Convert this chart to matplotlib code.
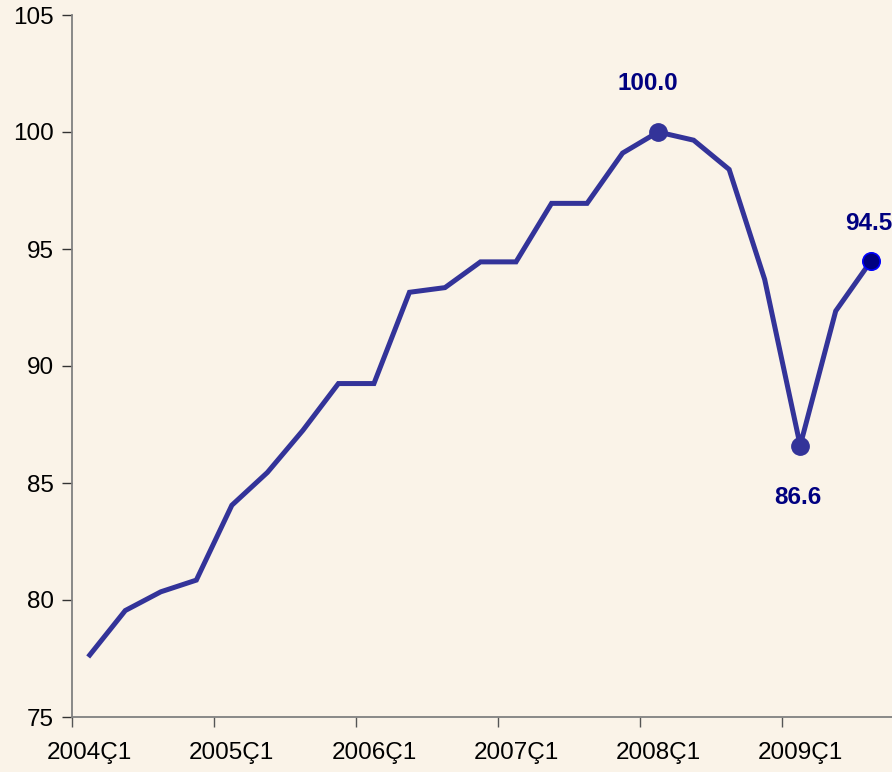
import matplotlib
matplotlib.use('Agg')

import matplotlib.pyplot as plt
import numpy as np

plt.rcParams.update({
    'font.family': ['Liberation Sans', 'DejaVu Sans'],
    'font.size': 17.5,
})

values = [77.65, 79.55, 80.35, 80.85, 84.05, 85.45, 87.25, 89.25, 89.25,
          93.15, 93.35, 94.45, 94.45, 96.95, 96.95, 99.1, 100.0, 99.65,
          98.4, 93.7, 86.6, 92.35, 94.5]
tick_labels = ['2004Ç1', '2005Ç1', '2006Ç1', '2007Ç1', '2008Ç1', '2009Ç1']

bg = '#FAF3E8'
line_color = '#333399'
label_color = '#000080'

fig = plt.figure(figsize=(8.92, 7.72), dpi=100, facecolor=bg)
ax = fig.add_axes([72 / 892, 55 / 772, 817 / 892, 702 / 772])
ax.set_facecolor(bg)

x = np.arange(len(values))
ax.plot(x, values, color=line_color, linewidth=3.6, solid_joinstyle='miter', zorder=2)

# highlighted points
for idx in (16, 20):
    ax.plot(x[idx], values[idx], 'o', color=line_color, markersize=12.5, zorder=3)
ax.plot(x[22], values[22], 'o', markerfacecolor=label_color, markeredgecolor='#0000FF',
        markeredgewidth=1.2, markersize=12.5, zorder=3, clip_on=False)

ax.annotate(f'{values[16]:.1f}', (x[16], values[16]), xytext=(-10, 49),
            textcoords='offset pixels', ha='center', va='center',
            fontweight='bold', color=label_color)
ax.annotate(f'{values[20]:.1f}', (x[20], values[20]), xytext=(-2, -52),
            textcoords='offset pixels', ha='center', va='center',
            fontweight='bold', color=label_color)
ax.annotate(f'{values[22]:.1f}', (x[22], values[22]), xytext=(-2, 37),
            textcoords='offset pixels', ha='center', va='center',
            fontweight='bold', color=label_color, annotation_clip=False)

ax.set_xlim(-0.5, len(values) - 0.5)
ax.set_ylim(75, 105)
ax.set_yticks(np.arange(75, 106, 5))

# tick marks at category boundaries, labels at first quarter of each year
ax.set_xticks(np.arange(0, len(values), 4) - 0.5)
ax.set_xticklabels([])
ax.set_xticks(np.arange(0, len(values), 4), minor=True)
ax.set_xticklabels(tick_labels, minor=True)
ax.tick_params(axis='x', which='minor', length=0, pad=18)
ax.tick_params(axis='x', which='major', length=7, width=1, color='#555555', direction='out')
ax.tick_params(axis='y', length=7, width=1, color='#333333', direction='out', pad=6)

for s in ('top', 'right'):
    ax.spines[s].set_visible(False)
for s in ('left', 'bottom'):
    ax.spines[s].set_color('#808080')
    ax.spines[s].set_linewidth(1.3)
ax.spines['bottom'].set_bounds(-0.5, len(values) - 0.4)

fig.savefig('out.png', dpi=100, facecolor=bg)
